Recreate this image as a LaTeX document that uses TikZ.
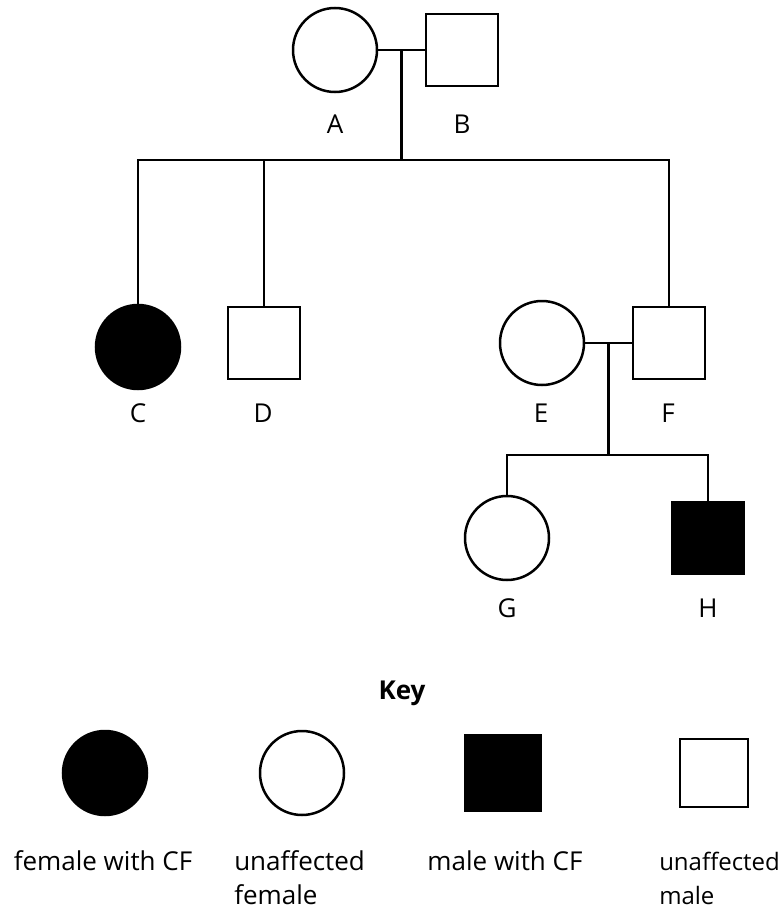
\documentclass[tikz,border=0pt]{standalone}
\usepackage{fontspec}
\setmainfont{Open Sans}
\usetikzlibrary{calc}

\begin{document}
\begin{tikzpicture}[
    x=1pt,
    y=-1pt,
    line width=2.5pt,
    every node/.style={font=\fontsize{26}{34}\selectfont},
    female/.style={draw, circle, minimum size=84pt, inner sep=0pt},
    male/.style={draw, rectangle, minimum size=72pt, inner sep=0pt},
    affected/.style={fill=black},
    tag/.style={inner sep=0pt},
    keytext/.style={inner sep=0pt, align=left, anchor=base}
]
    \useasboundingbox (0,0) rectangle (783,910);

    % first generation
    \node[female] (A) at (335,50) {};
    \node[male] (B) at (462,50) {};
    \node[tag] at (335,124) {A};
    \node[tag] at (462,124) {B};
    \draw (A.east) -- (B.west);
    \coordinate (ab) at ($(A.east)!0.5!(B.west)$);
    \coordinate (sib1) at (400,160);

    % second generation
    \node[female, affected] (C) at (138,347) {};
    \node[male] (D) at (264,343) {};
    \node[female] (E) at (542,343) {};
    \node[male] (F) at (669,343) {};
    \node[tag] at (138,413) {C};
    \node[tag] at (263,413) {D};
    \node[tag] at (541,413) {E};
    \node[tag] at (668,413) {F};
    \draw (ab) -- (ab |- sib1);
    \draw (C.north) |- (F.north |- sib1) -- (F.north);
    \draw (D.north) -- (D.north |- sib1);
    \draw (E.east) -- (F.west);
    \coordinate (ef) at ($(E.east)!0.5!(F.west)$);
    \coordinate (sib2) at (600,455);

    % third generation
    \node[female] (G) at (507,538) {};
    \node[male, affected] (H) at (708,538) {};
    \node[tag] at (507,608) {G};
    \node[tag] at (708,608) {H};
    \draw (ef) -- (ef |- sib2);
    \draw (G.north) |- (H.north |- sib2) -- (H.north);

    % key
    \node[tag, font=\fontsize{26}{34}\selectfont\bfseries] (key) at (402,693) {Key};
    \node[female, affected] (k1) at (105,773) {};
    \node[female] (k2) at (302,773) {};
    \node[male, affected, minimum size=75pt] (k3) at (503,773) {};
    \node[male, minimum size=68pt] (k4) at (714,773) {};
    % two-line labels sit on the baseline of their last line
    \node[keytext] (t1) at (103,870) {female with CF};
    \node[keytext, anchor=base west] (t2) at (233,904) {unaffected\\female};
    \node[keytext] (t3) at (505,870) {male with CF};
    \node[keytext, anchor=base west, font=\fontsize{24}{34}\selectfont] (t4) at (658,904) {unaffected\\male};
\end{tikzpicture}
\end{document}
